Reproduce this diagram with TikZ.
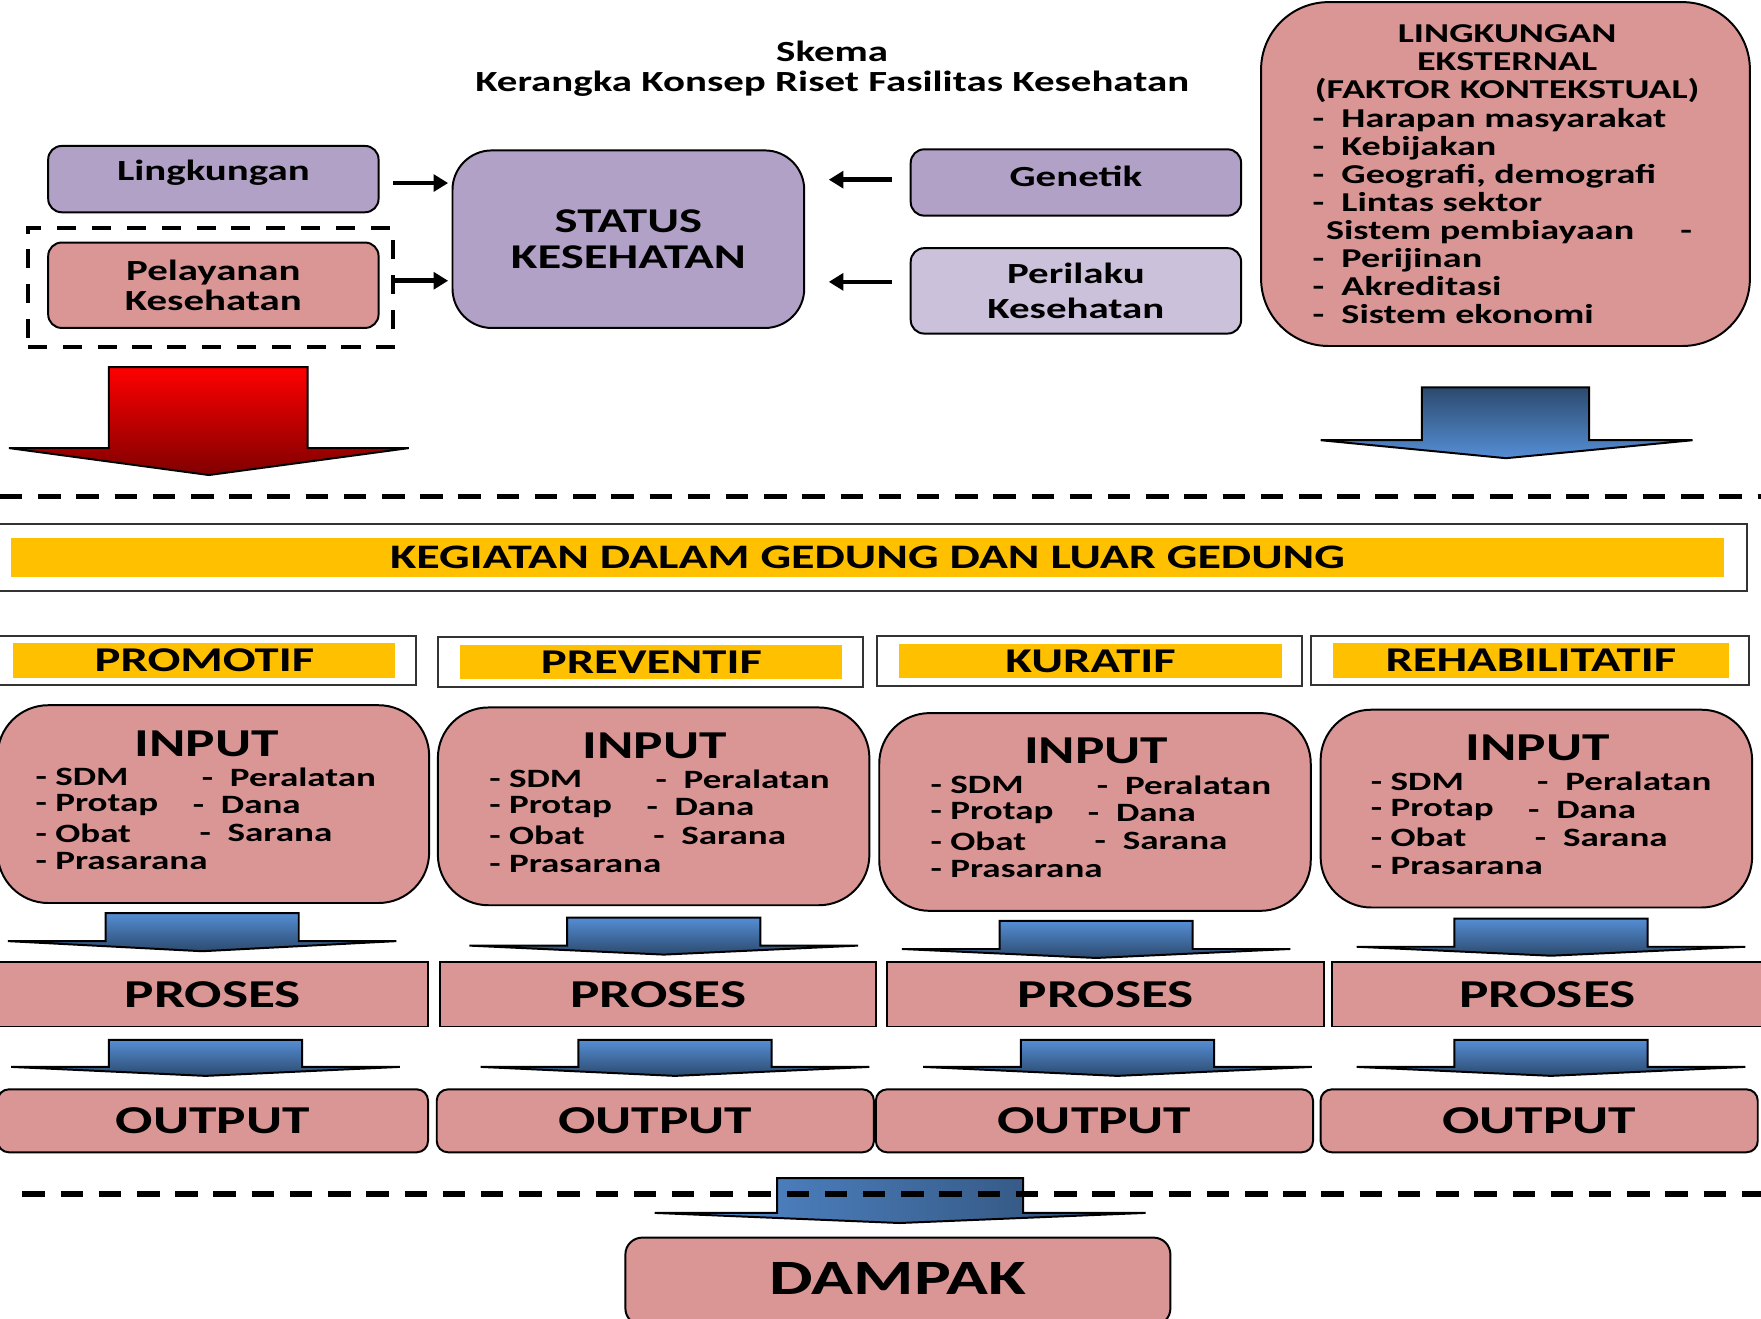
\documentclass[tikz,border=0pt]{standalone}
\usepackage{fontspec}
\setmainfont{Carlito}[FakeStretch=1.4]
\usetikzlibrary{arrows.meta}
\definecolor{pinkbox}{HTML}{D99694}
\definecolor{lilac}{HTML}{B2A1C7}
\definecolor{lilaclight}{HTML}{CCC1DA}
\definecolor{amber}{HTML}{FFC000}
\definecolor{blueup}{HTML}{558ED5}
\definecolor{bluedn}{HTML}{2C4A6E}
\definecolor{redup}{HTML}{FF0000}
\definecolor{reddn}{HTML}{800000}
\newcommand{\setfs}[2]{\bfseries\fontsize{#1pt}{#2pt}\selectfont}
\tikzset{
  box/.style={draw=black, line width=0.5pt, fill=pinkbox, inner sep=0pt, align=center},
  lilacbox/.style={box, fill=lilac, rounded corners=0.12cm},
  frame/.style={draw=black!80, line width=0.5pt, fill=white, inner sep=0pt},
  tag/.style={fill=amber, inner sep=0pt, font=\setfs{8.8}{10}},
  darr/.style={line width=1.2pt, -{Triangle[length=0.13cm, width=0.15cm]}},
  dashline/.style={line width=1.4pt, dash pattern=on 0.2cm off 0.14cm},
  listtxt/.style={anchor=west, inner sep=0pt, font=\setfs{6.7}{8}},
}
\begin{document}
\begin{tikzpicture}[x=0.01cm, y=-0.01cm]
\useasboundingbox (0,0) rectangle (1568,1174);

% judul
\node[align=center, font=\setfs{7.4}{7.7}] (title) at (741,61) {Skema\\Kerangka Konsep Riset Fasilitas Kesehatan};

% faktor yang mempengaruhi status kesehatan
\node[lilacbox, minimum width=2.94cm, minimum height=0.59cm, text depth=0.15cm, font=\setfs{7.4}{8}] (ling) at (190,159.5) {Lingkungan};
\node[box, rounded corners=0.12cm, minimum width=2.94cm, minimum height=0.76cm, font=\setfs{7.4}{7.7}] (pel) at (190,254) {Pelayanan\\Kesehatan};
\node[draw, line width=1.1pt, dash pattern=on 0.17cm off 0.14cm, minimum width=3.25cm, minimum height=1.06cm, inner sep=0pt] (pelframe) at (187.5,256) {};
\node[lilacbox, rounded corners=0.35cm, minimum width=3.13cm, minimum height=1.58cm, font=\setfs{8.8}{9.1}] (status) at (559.5,213) {STATUS\\KESEHATAN};
\node[lilacbox, minimum width=2.94cm, minimum height=0.59cm, text depth=0.11cm, font=\setfs{7.4}{8}] (gen) at (958,162.5) {Genetik};
\node[lilacbox, fill=lilaclight, minimum width=2.94cm, minimum height=0.76cm, font=\setfs{7.4}{8.8}] (peri) at (958,259) {Perilaku\\Kesehatan};

\coordinate (lingR) at ([yshift=-0.035cm]ling.east);
\coordinate (pelR) at ([yshift=0.06cm]pelframe.east);
\coordinate (genL) at ([yshift=0.025cm]gen.west);
\coordinate (periL) at ([yshift=0.08cm]peri.west);
\draw[darr, shorten <=0.12cm, shorten >=0.03cm] (lingR) -- (status.west |- lingR);
\draw[darr, shorten >=0.03cm] (pelR) -- (status.west |- pelR);
\draw[darr, shorten <=0.16cm, shorten >=0.21cm] (genL) -- (status.east |- genL);
\draw[darr, shorten <=0.16cm, shorten >=0.21cm] (periL) -- (status.east |- periL);

% lingkungan eksternal
\node[box, rounded corners=0.6cm, minimum width=4.35cm, minimum height=3.06cm] (ext) at (1340.5,155) {};
\node[align=center, inner sep=0pt, font=\setfs{6.9}{7.1}] (exthead) at (1342,57) {LINGKUNGAN\\EKSTERNAL\\(FAKTOR KONTEKSTUAL)};
\node[align=left, anchor=west, inner sep=0pt, font=\setfs{6.9}{7.1}] (extlist) at (1168,192.5) {-\ \ Harapan masyarakat\\-\ \ Kebijakan\\-\ \ Geografi, demografi\\-\ \ Lintas sektor\\\hspace*{0.12cm}Sistem pembiayaan\hspace{0.41cm}-\\-\ \ Perijinan\\-\ \ Akreditasi\\-\ \ Sistem ekonomi};

% panah besar
\draw[line width=0.5pt, top color=redup, bottom color=reddn] (97,327) -- (274,327) -- (274,399) -- (364,399) -- (186,423) -- (8,399) -- (97,399) -- cycle;
\draw[line width=0.5pt, top color=bluedn, bottom color=blueup] (1266,345) -- (1415,345) -- (1415,392) -- (1507,392) -- (1341,408) -- (1176,392) -- (1266,392) -- cycle;

\draw[dashline] (0,442) -- (1568,442);

% kegiatan
\node[frame, minimum width=15.6cm, minimum height=0.59cm] (keg) at (775,496.5) {};
\node[tag, minimum width=15.25cm, minimum height=0.35cm, font=\setfs{8.7}{10}] (kegtxt) at (772.5,496.5) {KEGIATAN DALAM GEDUNG DAN LUAR GEDUNG};

\foreach \i/\cx/\cy/\w/\t in {1/181/588/3.78/PROMOTIF, 2/579/589.5/3.78/PREVENTIF, 3/970/588.5/3.78/KURATIF, 4/1362/588/3.90/REHABILITATIF}{
  \node[frame, minimum width=\w cm, minimum height=0.44cm] (cat\i) at (\cx,\cy) {};
  \node[tag, minimum width={\w cm-0.38cm}, minimum height=0.31cm] (tag\i) at (\cx+1,\cy) {\t};
}

% input - proses - output
\foreach \i/\cx/\cy/\tx/\lx in {1/190/716/184/31, 2/582/718/583/435, 3/975/723/976/828, 4/1368/720/1369/1220}{
  \node[box, rounded corners=0.45cm, minimum width=3.84cm, minimum height=1.76cm] (in\i) at (\cx,\cy) {};
  \node[inner sep=0pt, font=\setfs{10}{12}] (inttl\i) at (\tx,\cy-54) {INPUT};
  \node[listtxt] (a\i) at (\lx,\cy-24) {- SDM};
  \node[listtxt] (b\i) at (\lx,\cy+1) {- Protap};
  \node[listtxt] (c\i) at (\lx,\cy+26) {- Obat};
  \node[listtxt] (d\i) at (\lx,\cy+51) {- Prasarana};
  \node[listtxt] (e\i) at (\lx+148,\cy-24) {-\ \ Peralatan};
  \node[listtxt] (f\i) at (\lx+140,\cy+1) {-\ \ Dana};
  \node[listtxt] (g\i) at (\lx+146,\cy+26) {-\ \ Sarana};
}
\foreach \i/\cx/\w in {1/189.5/3.83, 2/586/3.88, 3/984.5/3.89, 4/1378/3.84}{
  \node[box, minimum width=\w cm, minimum height=0.57cm, font=\setfs{10}{12}] (pro\i) at (\cx,885.5) {PROSES};
}
\foreach \i/\cx/\w in {1/189.5/3.83, 2/583.5/3.89, 3/974.5/3.89, 4/1370.5/3.89}{
  \node[box, rounded corners=0.1cm, minimum width=\w cm, minimum height=0.56cm, font=\setfs{10}{12}] (out\i) at (\cx,998) {OUTPUT};
}
\foreach \cx/\t/\b/\p in {180/813/838/847, 591/817/842/850, 976/820/845/853, 1381/818/843/851, 183/926/950/958, 601/926/950/958, 995/926/950/958, 1381/926/950/958}{
  \draw[line width=0.5pt, top color=blueup, bottom color=bluedn] (\cx-86,\t) -- (\cx+86,\t) -- (\cx+86,\b) -- (\cx+173,\b) -- (\cx,\p) -- (\cx-173,\b) -- (\cx-86,\b) -- cycle;
}

% dampak
\draw[line width=0.5pt, left color=blueup, right color=bluedn] (692,1049) -- (911,1049) -- (911,1080) -- (1020,1080) -- (801,1089) -- (583,1080) -- (692,1080) -- cycle;
\draw[dashline] (20,1063) -- (1568,1063);
\node[box, rounded corners=0.15cm, minimum width=4.85cm, minimum height=0.78cm, text depth=0.06cm, font=\setfs{12.5}{14}] (dampak) at (799.5,1141) {DAMPAK};
\end{tikzpicture}
\end{document}
